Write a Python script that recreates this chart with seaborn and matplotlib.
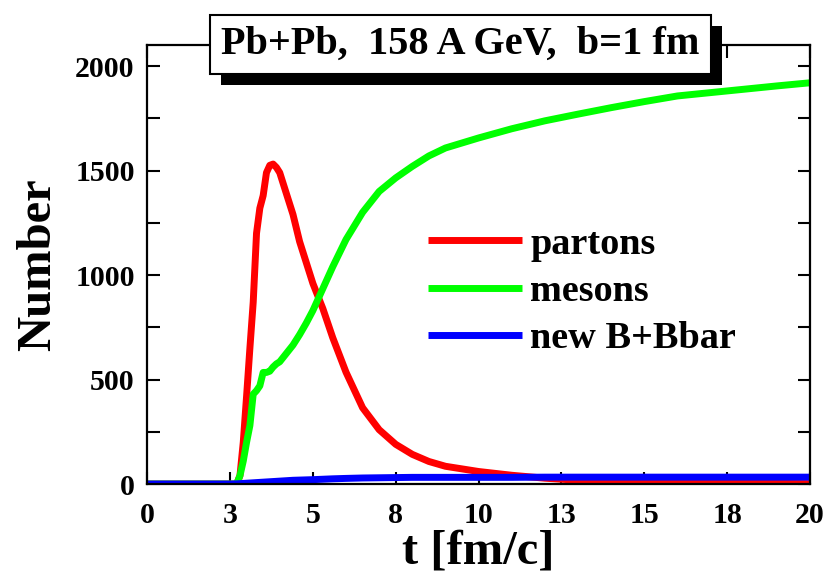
import numpy as np
import pandas as pd
import matplotlib
matplotlib.use("Agg")
import matplotlib.pyplot as plt
import matplotlib.patheffects as pe
from matplotlib.ticker import MultipleLocator
import seaborn as sns

# values
t = [0, 2.5, 2.7, 2.8, 2.9, 3.0, 3.1, 3.2, 3.3, 3.4, 3.5, 3.6, 3.7, 3.8, 3.9,
     4.0, 4.2, 4.4, 4.6, 4.8, 5.0, 5.3, 5.6, 6.0, 6.5, 7.0, 7.5, 8.0, 8.5,
     9.0, 10, 11, 12, 13, 14, 15, 16, 17, 18, 19, 20]
partons = [0, 0, 0, 40, 200, 420, 650, 870, 1200, 1320, 1380, 1490, 1525, 1531, 1515,
           1490, 1390, 1290, 1160, 1060, 960, 840, 700, 535, 365, 260, 190, 142, 108,
           85, 60, 42, 28, 18, 13, 9, 7, 5, 4, 3, 2]
mesons = [0, 0, 0, 40, 110, 200, 280, 430, 447, 470, 534, 534, 540, 560, 575,
          585, 625, 665, 715, 770, 830, 935, 1040, 1170, 1300, 1400, 1465, 1520, 1570,
          1608, 1656, 1700, 1738, 1770, 1801, 1830, 1857, 1873, 1889, 1905, 1920]
baryons = [0, 0, 1, 2, 3, 4, 5, 6, 7, 8, 9, 10, 11, 12, 13,
           14, 16, 18, 19, 20, 21, 23, 25, 27, 29, 30, 31, 32, 32,
           32, 32, 32, 33, 33, 33, 33, 33, 33, 33, 33, 33]

series_names = ["partons", "mesons", "new B+Bbar"]
series_colors = ["#ff0000", "#00ff00", "#0000ff"]
x_tick_values = [0, 2.5, 5, 7.5, 10, 12.5, 15, 17.5, 20]
x_tick_labels = ["0", "3", "5", "8", "10", "13", "15", "18", "20"]
y_tick_values = [0, 500, 1000, 1500, 2000]
title_text = "Pb+Pb,  158 A GeV,  b=1 fm"

df = pd.DataFrame({"t": t, "partons": partons, "mesons": mesons, "new B+Bbar": baryons})

sns.set_style("ticks")
plt.rcParams["font.family"] = ["Liberation Serif", "DejaVu Serif"]
plt.rcParams["font.weight"] = "bold"
for key in ["text.color", "axes.labelcolor", "xtick.color", "ytick.color"]:
    plt.rcParams[key] = "black"

fig = plt.figure(figsize=(8.36, 5.79), dpi=100)
ax = fig.add_axes([0.176, 0.164, 0.793, 0.758])

for name, col in zip(series_names, series_colors):
    sns.lineplot(data=df, x="t", y=name, color=col, linewidth=5, label=name,
                 ax=ax, solid_capstyle="butt")

ax.set_xlim(0, 20)
ax.set_ylim(0, 2100)
ax.set_xticks(x_tick_values)
ax.set_xticklabels(x_tick_labels)
ax.set_yticks(y_tick_values)
ax.yaxis.set_minor_locator(MultipleLocator(250))
ax.tick_params(which="both", direction="in", top=True, right=True,
               length=9, width=1.5, labelsize=21.5)
ax.tick_params(axis="x", pad=13)
ax.tick_params(axis="y", pad=9)
for s in ax.spines.values():
    s.set_linewidth(1.6)
    s.set_color("black")

ax.set_xlabel("t [fm/c]", fontsize=35, fontweight="bold", labelpad=0)
ax.set_ylabel("Number", fontsize=35, fontweight="bold", labelpad=11)

leg = ax.legend(loc="upper left", bbox_to_anchor=(0.424, 0.586), frameon=False,
                fontsize=27.5, handlelength=2.45, handletextpad=0.22,
                labelspacing=0.32, borderpad=0, borderaxespad=0)
for line in leg.get_lines():
    line.set_linewidth(5)

# title box with a drop shadow
title = ax.text(0.472, 1.002, title_text, transform=ax.transAxes, ha="center",
                va="center", fontsize=29, fontweight="bold", zorder=11, clip_on=False,
                bbox=dict(boxstyle="square,pad=0.28", facecolor="white",
                          edgecolor="black", linewidth=1.5))
title.get_bbox_patch().set_path_effects([
    pe.SimplePatchShadow(offset=(8, -8), shadow_rgbFace="black", alpha=1.0),
    pe.Normal()])

fig.savefig("out.png", dpi=100)
